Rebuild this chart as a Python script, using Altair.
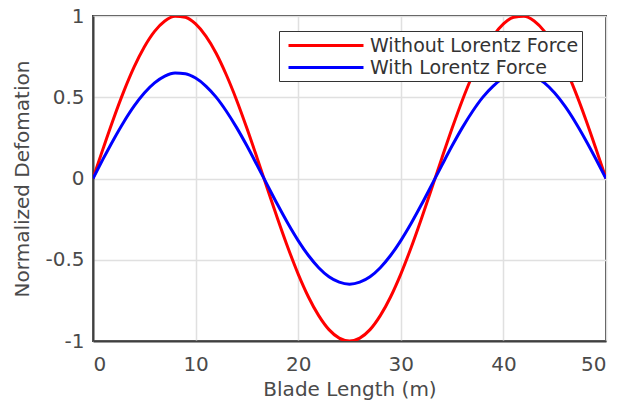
import altair as alt
import pandas as pd

x_m = list(range(0, 51))
without_lf = [0, 0.187, 0.368, 0.536, 0.685, 0.809, 0.905, 0.969, 0.998, 0.992, 0.951,
              0.876, 0.771, 0.637, 0.482, 0.309, 0.125, -0.063, -0.249, -0.426, -0.588,
              -0.729, -0.844, -0.930, -0.982, -1.0, -0.982, -0.930, -0.844, -0.729, -0.588,
              -0.426, -0.249, -0.063, 0.125, 0.309, 0.482, 0.637, 0.771, 0.876, 0.951,
              0.992, 0.998, 0.969, 0.905, 0.809, 0.685, 0.536, 0.368, 0.187, 0]
with_lf = [0, 0.122, 0.239, 0.348, 0.445, 0.526, 0.588, 0.630, 0.649, 0.645, 0.618,
           0.569, 0.501, 0.414, 0.313, 0.201, 0.081, -0.041, -0.162, -0.277, -0.382,
           -0.474, -0.549, -0.605, -0.638, -0.65, -0.638, -0.605, -0.549, -0.474, -0.382,
           -0.277, -0.162, -0.041, 0.081, 0.201, 0.313, 0.414, 0.501, 0.569, 0.618,
           0.645, 0.649, 0.630, 0.588, 0.526, 0.445, 0.348, 0.239, 0.122, 0]
series = ["Without Lorentz Force", "With Lorentz Force"]
colors = ["#ff0000", "#0000ff"]
x_ticks = [0, 10, 20, 30, 40, 50]
y_ticks = [-1, -0.5, 0, 0.5, 1]

rows = []
for i, xv in enumerate(x_m):
    rows.append({"x": xv, "y": without_lf[i], "s": series[0]})
    rows.append({"x": xv, "y": with_lf[i], "s": series[1]})
df = pd.DataFrame(rows)

FONT = "DejaVu Sans"
TXT = "#4a4a4a"

chart = alt.Chart(df).mark_line(strokeWidth=3, clip=True, interpolate="monotone").encode(
    x=alt.X("x:Q", scale=alt.Scale(domain=[0, 50], nice=False),
            axis=alt.Axis(values=x_ticks, title="Blade Length (m)",
                          labelPadding=13, titlePadding=5, tickSize=0)),
    y=alt.Y("y:Q", scale=alt.Scale(domain=[-1, 1], nice=False),
            axis=alt.Axis(values=y_ticks, title="Normalized Defomation",
                          labelExpr="datum.value == 0 ? '0' : (datum.value < 0 ? '-' : '') + format(abs(datum.value), '~g')",
                          labelPadding=9, titlePadding=12, tickSize=0)),
    color=alt.Color("s:N", scale=alt.Scale(domain=series, range=colors),
                    legend=alt.Legend(title=None, orient="none", legendX=186, legendY=15,
                                      symbolType="M-3.75,0H3.75", symbolSize=400,
                                      symbolOffset=32.5, symbolStrokeWidth=3,
                                      symbolFillColor="transparent",
                                      labelFontSize=19, labelOffset=32.5, labelLimit=400,
                                      labelFont=FONT, labelColor="#333333",
                                      strokeColor="#333333", padding=3,
                                      fillColor="white", rowPadding=0)),
    order=alt.Order("s:N", sort="descending"),
).properties(
    width=513, height=325,
    padding={"left": 85, "top": 8, "right": 7, "bottom": 63},
    autosize="none",
).configure_axis(
    gridColor="#e0e0e0", gridWidth=1.5, domainColor="#404040", domainWidth=2,
    labelFont=FONT, labelFontSize=20, labelColor=TXT,
    titleFont=FONT, titleFontSize=20, titleColor=TXT, titleFontWeight="normal",
).configure_view(stroke="#404040", strokeWidth=2)

chart.save("out.html", embed_options={"renderer": "svg", "actions": False})
